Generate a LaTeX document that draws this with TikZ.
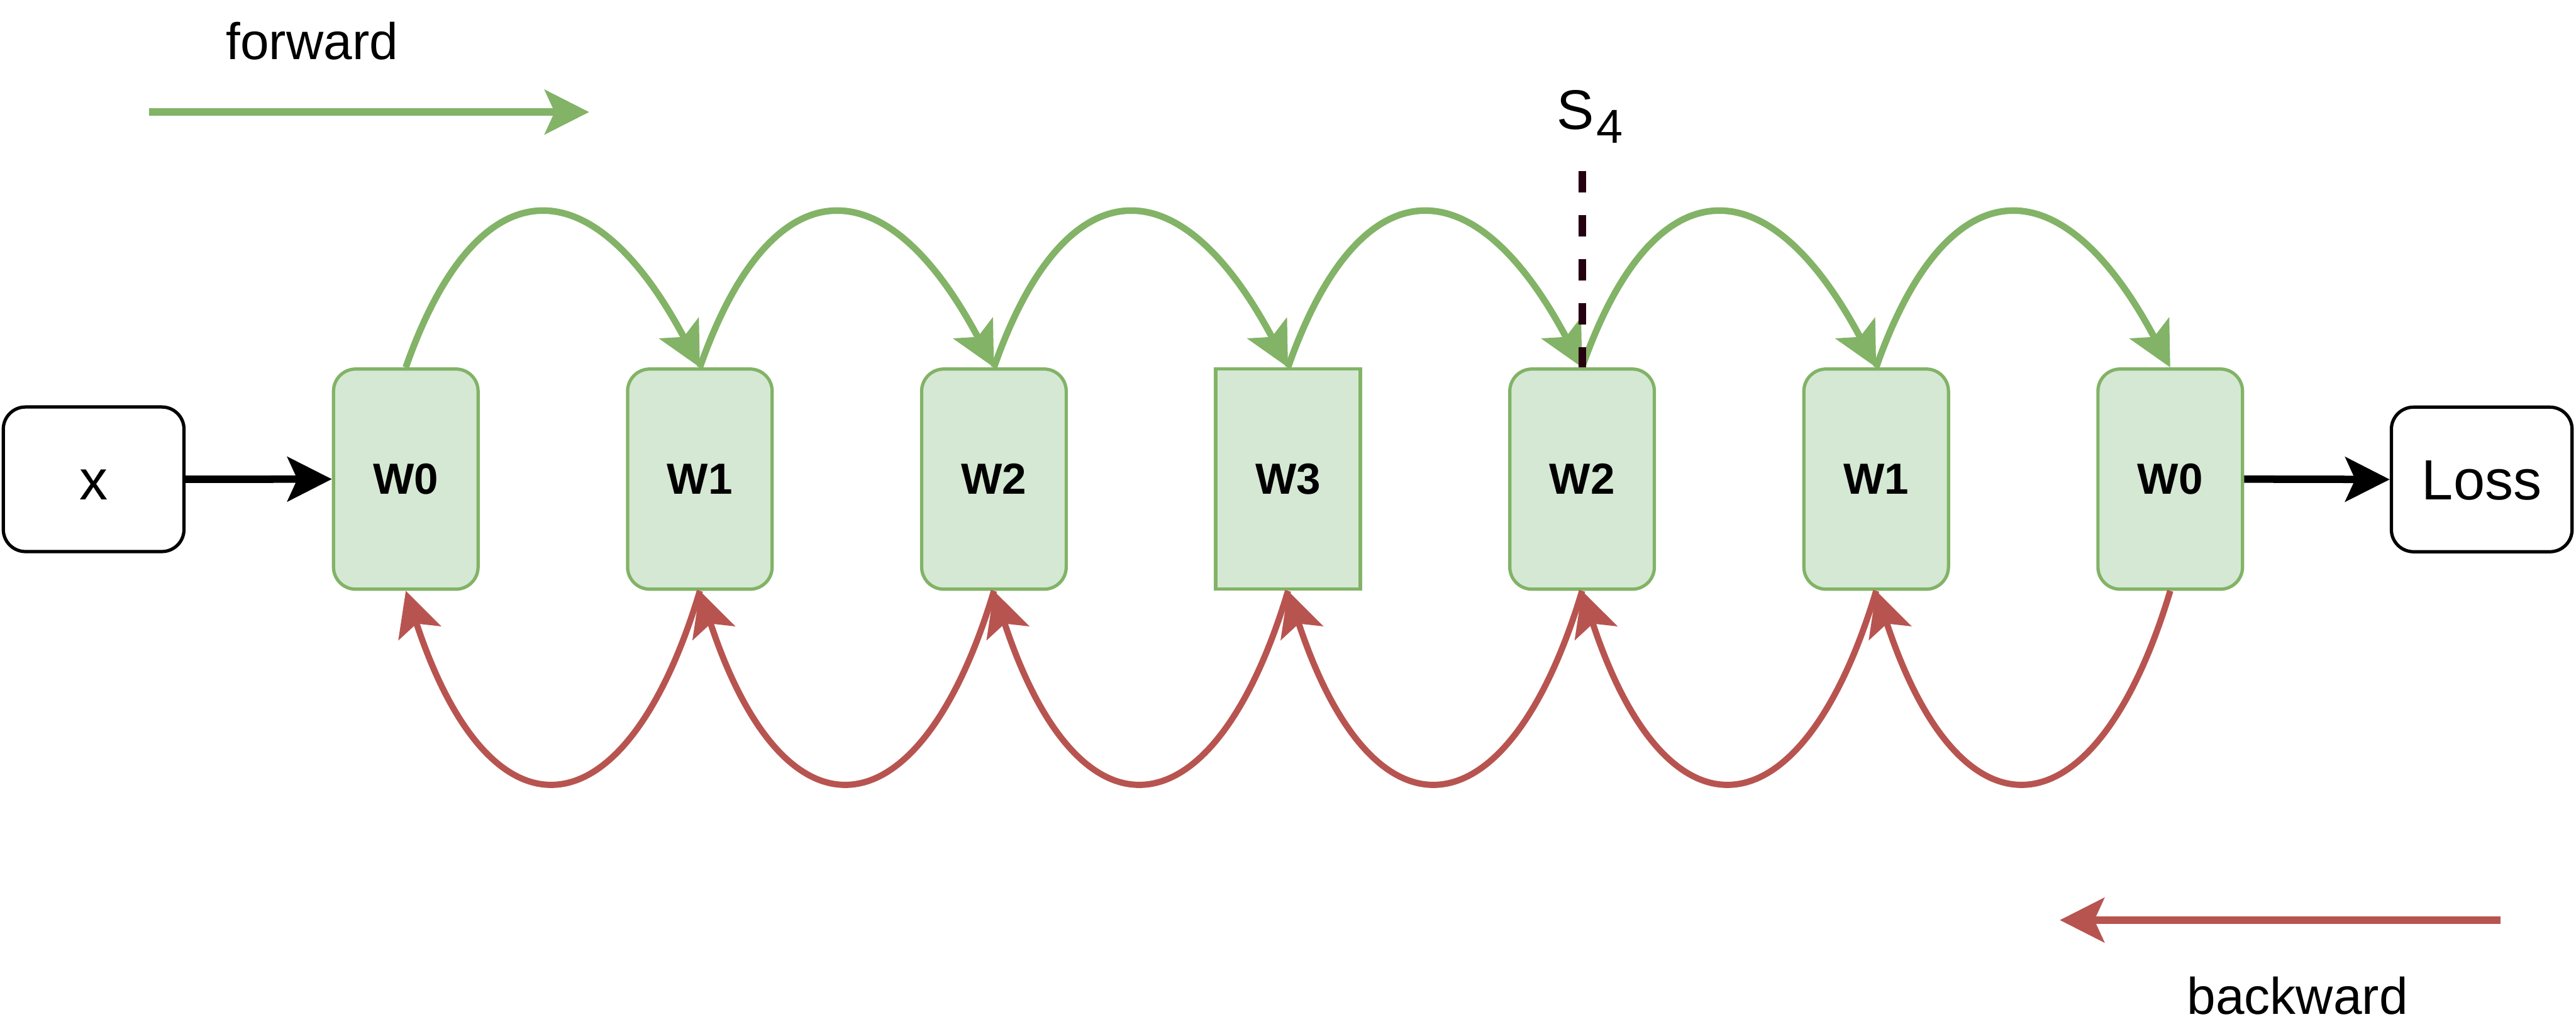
\documentclass[tikz,border=0pt]{standalone}
\usepackage{fontspec}
\setmainfont{Liberation Sans}
\usetikzlibrary{arrows.meta,calc}
\definecolor{gfill}{HTML}{D5E8D4}
\definecolor{gline}{HTML}{82B366}
\definecolor{rline}{HTML}{B85450}
\definecolor{dline}{HTML}{260010}
\begin{document}
\begin{tikzpicture}[x=0.5pt,y=-0.5pt,
  arrowtip/.style={-{Stealth[length=13.5pt,width=13.5pt,inset=3pt]}},
  wbox/.style={draw=gline, fill=gfill, line width=1pt, rounded corners=6.75pt,
    minimum width=44pt, minimum height=67pt, inner sep=0pt,
    font=\fontsize{13.25}{16}\selectfont\bfseries, text height=9.25pt, text depth=0pt},
  wsharp/.style={wbox, sharp corners},
  iobox/.style={draw=black, fill=white, line width=1pt, rounded corners=6.75pt,
    minimum width=55pt, minimum height=44pt, inner sep=0pt,
    font=\fontsize{17.25}{20}\selectfont, text height=12.3pt, text depth=0pt},
  fwdarc/.style={draw=gline, line width=2pt, arrowtip},
  bwdarc/.style={draw=rline, line width=1.9pt, arrowtip},
  flowline/.style={draw=black, line width=2.25pt, arrowtip},
  lbl/.style={inner sep=0pt, font=\fontsize{15.7}{19}\selectfont, anchor=base},
]
\fill[white] (0,0) rectangle (1568,629);
\useasboundingbox (0,0) rectangle (1568,629);

% nodes
\node[iobox] (x) at (57,291.7) {x};
\node[wbox] (w0a) at (247,291.6) {W0};
\node[wbox] (w1a) at (426,291.6) {W1};
\node[wbox] (w2a) at (605,291.6) {W2};
\node[wsharp] (w3) at (784,291.6) {W3};
\node[wbox] (w2b) at (963,291.6) {W2};
\node[wbox] (w1b) at (1142,291.6) {W1};
\node[wbox] (w0b) at (1321,291.6) {W0};
\node[iobox] (loss) at (1510.6,291.8) {Loss};

% main flow
\draw[flowline] (x.east) -- (w0a.west);
\draw[flowline] (w0b.east) -- (loss.west);

% forward and backward arcs
\foreach \a/\b in {w0a/w1a, w1a/w2a, w2a/w3, w3/w2b, w2b/w1b, w1b/w0b}{
  \draw[fwdarc] (\a.north) .. controls ($(\a.north)+(42,-120)$) and ($(\b.north)+(-68,-128)$) .. (\b.north);
  \draw[bwdarc] (\b.south) .. controls ($(\b.south)+(-45,150)$) and ($(\a.south)+(52,158)$) .. (\a.south);
}

% legend arrows
\coordinate (f1) at (90.6,68.2);
\coordinate (f2) at (358.6,68.2);
\draw[draw=gline, line width=2.2pt, arrowtip] (f1) -- (f2);
\node[lbl] (fwdlabel) at (190,36) {forward};

\coordinate (b1) at (1521.9,560);
\coordinate (b2) at (1253.8,560);
\draw[draw=rline, line width=2.2pt, arrowtip] (b1) -- (b2);
\node[lbl] (bwdlabel) at (1398.5,617.3) {backward};

% split marker
\node[inner sep=0pt, anchor=base west, font=\fontsize{17}{20}\selectfont] (s4) at (947.2,78.5)
  {S\kern0.8pt\raisebox{-4.35pt}{\fontsize{14.5}{17}\selectfont 4}};
\coordinate (dtop) at (963,104.2);
\draw[dline, line width=2.3pt, dash pattern=on 6.5pt off 6.9pt] (dtop) -- (w2b.north);
\end{tikzpicture}
\end{document}
